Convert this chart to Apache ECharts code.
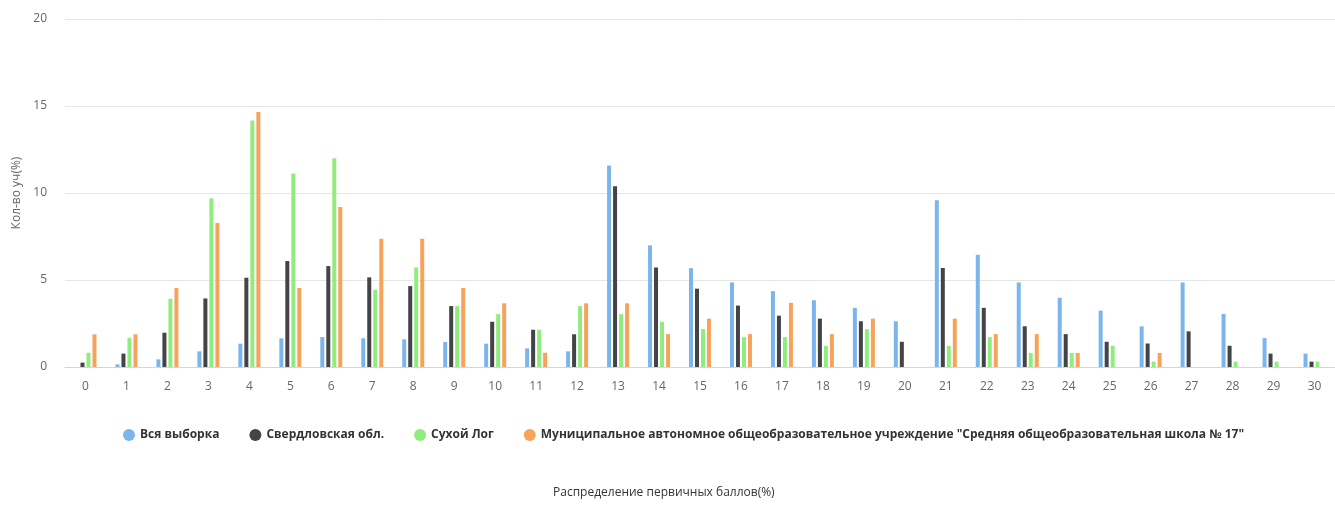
<!DOCTYPE html>
<html>
<head>
<meta charset="utf-8">
<script src="https://cdn.jsdelivr.net/npm/echarts@6/dist/echarts.min.js"></script>
<style>
html,body{margin:0;padding:0;background:#fff;}
#chart{width:1335px;height:505px;}
</style>
</head>
<body>
<div id="chart"></div>
<script>
const categories = ['0','1','2','3','4','5','6','7','8','9','10','11','12','13','14','15','16','17','18','19','20','21','22','23','24','25','26','27','28','29','30'];
const seriesNames = ['Вся выборка','Свердловская обл.','Сухой Лог','Муниципальное автономное общеобразовательное учреждение "Средняя общеобразовательная школа № 17"'];
const allSample = [0, 0.15, 0.44, 0.9, 1.34, 1.65, 1.72, 1.65, 1.59, 1.44, 1.34, 1.07, 0.9, 11.58, 6.99, 5.68, 4.86, 4.36, 3.84, 3.4, 2.63, 9.58, 6.45, 4.86, 3.98, 3.24, 2.34, 4.86, 3.05, 1.66, 0.77];
const sverdlovsk = [0.25, 0.77, 1.97, 3.94, 5.13, 6.09, 5.8, 5.15, 4.65, 3.5, 2.6, 2.14, 1.88, 10.39, 5.72, 4.5, 3.53, 2.95, 2.78, 2.63, 1.45, 5.69, 3.4, 2.34, 1.89, 1.45, 1.35, 2.05, 1.22, 0.77, 0.31];
const sukhoyLog = [0.82, 1.68, 3.92, 9.7, 14.16, 11.12, 12.0, 4.44, 5.72, 3.5, 3.04, 2.14, 3.5, 3.04, 2.6, 2.18, 1.72, 1.72, 1.22, 2.18, 0, 1.22, 1.72, 0.81, 0.81, 1.22, 0.31, 0, 0.31, 0.31, 0.31];
const school17 = [1.88, 1.88, 4.54, 8.27, 14.66, 4.54, 9.2, 7.37, 7.37, 4.54, 3.66, 0.82, 3.66, 3.66, 1.89, 2.78, 1.89, 3.69, 1.89, 2.78, 0, 2.78, 1.89, 1.89, 0.81, 0, 0.81, 0, 0, 0, 0];
const yTicks = [0, 5, 10, 15, 20];
const colors = ['#7cb5ec', '#434348', '#90ed7d', '#f7a35c'];

const chart = echarts.init(document.getElementById('chart'), null, {renderer: 'canvas'});
const dataSets = [allSample, sverdlovsk, sukhoyLog, school17];
const FONT = '"Open Sans", "DejaVu Sans", sans-serif';

chart.setOption({
  animation: false,
  textStyle: {fontFamily: FONT},
  color: colors,
  grid: {left: 65, top: 19, width: 1271, bottom: 138},
  legend: {
    left: 118, top: 424,
    icon: 'circle', itemWidth: 12, itemHeight: 12, itemGap: 30,
    textStyle: {color: '#333', fontSize: 12, fontWeight: 'bold', fontFamily: FONT},
    data: seriesNames
  },
  graphic: [{
    type: 'text', left: 553, top: 487,
    style: {text: 'Распределение первичных баллов(%)', fill: '#333', font: '12px ' + FONT}
  }],
  xAxis: {
    type: 'category',
    data: categories,
    axisLine: {lineStyle: {color: '#ccd6eb'}},
    axisTick: {show: false},
    axisLabel: {color: '#666', fontSize: 12, margin: 14}
  },
  yAxis: {
    type: 'value',
    min: yTicks[0], max: yTicks[yTicks.length - 1], interval: 5,
    name: 'Кол-во уч(%)',
    nameLocation: 'middle',
    nameGap: 42,
    nameTextStyle: {color: '#666', fontSize: 12},
    axisLine: {show: false},
    axisTick: {show: false},
    axisLabel: {color: '#666', fontSize: 12, margin: 18},
    splitLine: {lineStyle: {color: '#e6e6e6'}}
  },
  series: seriesNames.map((n, i) => ({
    name: n,
    type: 'bar',
    data: dataSets[i],
    barWidth: 4,
    barGap: '50%',
    itemStyle: {color: colors[i]}
  }))
});
</script>
</body>
</html>
